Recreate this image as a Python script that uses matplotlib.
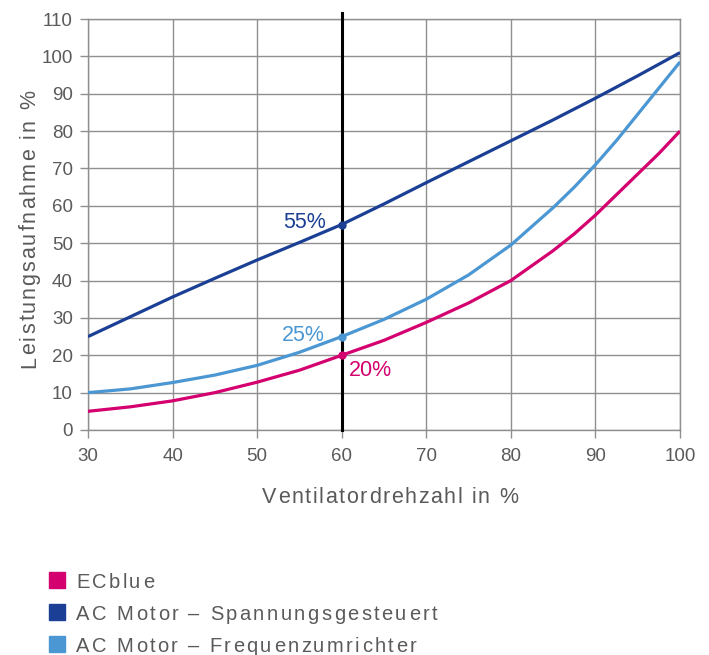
import matplotlib
matplotlib.use('Agg')
import matplotlib.pyplot as plt
from matplotlib.font_manager import FontProperties
from matplotlib.patches import Rectangle
from matplotlib.textpath import TextToPath

W, H, DPI = 709, 655, 100

# Ventilatordrehzahl in %
speed = [30, 35, 40, 45, 50, 55, 60, 65, 70, 75, 80, 85, 87.5, 90, 92.5, 95, 97.5, 100]
# Leistungsaufnahme in %
ecblue = [5, 6.2, 7.8, 10, 12.8, 16, 20, 24, 28.8, 34, 40, 48, 52.5, 57.5, 63, 68.5, 74, 80]
ac_spannung = [25, 30.3, 35.6, 40.6, 45.5, 50.2, 55, 60.5, 66.2, 71.8, 77.4, 83, 85.9, 88.8, 91.8, 94.8, 97.9, 101]
ac_frequenz = [10, 11, 12.7, 14.7, 17.3, 20.8, 25, 29.6, 35, 41.5, 49.5, 59.5, 65, 71, 77.5, 84.5, 91.5, 98.5]

highlight = 60
series_names = ['ECblue', 'AC Motor – Spannungsgesteuert', 'AC Motor – Frequenzumrichter']
colors = ['#d4006f', '#1a3f94', '#4a97d3']

x_ticks = [30, 40, 50, 60, 70, 80, 90, 100]
y_ticks = list(range(0, 111, 10))

GRAY = '#8f8f8f'
TEXT = '#5a5a5a'
FONT = 'Liberation Sans'


def char_advances(s, prop):
    ttp = TextToPath()
    base = ttp.get_text_width_height_descent('xx', prop, ismath=False)[0]
    out = []
    for c in s:
        w = ttp.get_text_width_height_descent('x' + c + 'x', prop, ismath=False)[0]
        out.append((w - base) * DPI / 72)
    return out


def spaced_text(fig, s, x, y, width, size, color, rotation=0):
    # text with letter spacing, x/y in pixels from top-left, width = total length in px
    prop = FontProperties(family=FONT, size=size)
    adv = char_advances(s, prop)
    gap = (width - sum(adv)) / (len(s) - 1)
    pos = 0
    for c, a in zip(s, adv):
        if rotation == 0:
            fx, fy = x + pos, y
        else:
            fx, fy = x, y - pos
        fig.text(fx / W, 1 - fy / H, c, fontproperties=prop, color=color,
                 rotation=rotation, rotation_mode='anchor', ha='left', va='baseline')
        pos += a + gap


fig = plt.figure(figsize=(W / DPI, H / DPI), dpi=DPI)
ax = fig.add_axes([88 / W, (H - 430) / H, (680 - 88) / W, (430 - 19) / H])

ax.set_xlim(30, 100)
ax.set_ylim(0, 110)
ax.set_xticks(x_ticks)
ax.set_yticks(y_ticks)
ax.grid(True, color=GRAY, lw=1)
ax.set_axisbelow(True)
for sp in ax.spines.values():
    sp.set_color(GRAY)
    sp.set_linewidth(1)
ax.tick_params(axis='both', direction='out', length=6, width=1, color=GRAY,
               labelcolor=TEXT, labelsize=13.5)
ax.tick_params(axis='x', pad=7)
ax.tick_params(axis='y', pad=5)
for lab in ax.get_xticklabels() + ax.get_yticklabels():
    lab.set_fontfamily(FONT)

# Kurven
for vals, col in [(ecblue, colors[0]), (ac_frequenz, colors[2]), (ac_spannung, colors[1])]:
    ax.plot(speed, vals, color=col, lw=2.3, solid_capstyle='butt', solid_joinstyle='round', zorder=3)

# Markierung bei 60 %
ax.plot([highlight, highlight], [0, 111.7], color='black', lw=2.2, clip_on=False, zorder=4)
i = speed.index(highlight)
label_pos = [(ac_spannung, colors[1], -16, -3, 'right'),
             (ac_frequenz, colors[2], -17, -4, 'right'),
             (ecblue, colors[0], 7, -21, 'left')]
for vals, col, dx, dy, ha in label_pos:
    ax.plot(highlight, vals[i], 'o', color=col, ms=5, zorder=5)
    ax.annotate(f'{vals[i]:.0f}%', (highlight, vals[i]), xytext=(dx, dy),
                textcoords='offset pixels', ha=ha, va='baseline', color=col,
                fontsize=15.5, fontfamily=FONT)

# Achsentitel
spaced_text(fig, 'Ventilatordrehzahl in %', 262, 503, 256, 15.5, TEXT)
spaced_text(fig, 'Leistungsaufnahme in %', 35, 368, 278, 15.5, TEXT, rotation=90)

# Legende
legend_base = [588, 620, 652]
legend_end = [154, 437, 416]
for name, col, yb, xe in zip(series_names, colors, legend_base, legend_end):
    fig.patches.append(Rectangle((49 / W, 1 - yb / H), 16 / W, 16 / H,
                                 transform=fig.transFigure, color=col))
    spaced_text(fig, name, 76, yb, xe - 76, 14.5, TEXT)

fig.savefig('out.png', dpi=DPI)
